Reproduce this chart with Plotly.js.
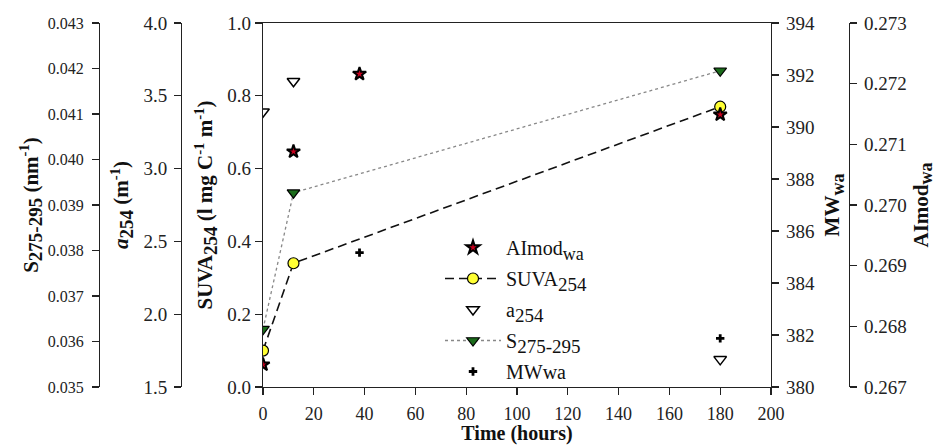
<!DOCTYPE html>
<html>
<head>
<meta charset="utf-8">
<script src="https://cdn.plot.ly/plotly-3.0.1.min.js"></script>
<style>html,body{margin:0;padding:0;background:#fff;}#chart{width:936px;height:445px;}</style>
</head>
<body>
<div id="chart"></div>
<script>
// Data
const timeAImod = [0, 12, 38, 180];
const aimodWa = [0.26737, 0.27088, 0.27216, 0.27149];

const timeSUVA = [0, 12, 180];
const suva254 = [0.10, 0.34, 0.77];

const timeA254 = [0, 12, 180];
const a254 = [3.39, 3.60, 1.69];

const timeS = [0, 12, 180];
const s275295 = [0.03627, 0.03927, 0.04195];

const timeMW = [38, 180];
const mwWa = [385.17, 381.87];

const xTicks = [0, 20, 40, 60, 80, 100, 120, 140, 160, 180, 200];

const FONT = 'Liberation Serif';
function tickFont(s) { return {family: FONT, size: s || 18, color: '#222'}; }
function titleFont(s) { return {family: FONT, size: s || 21, color: '#111'}; }
function sub(t, px) { return '<sub><span style="font-size:' + px + 'px">' + t + '</span></sub>'; }

const traces = [
  {x: timeAImod, y: aimodWa, yaxis: 'y5', name: 'AImod' + sub('wa', 18), legendgroup: 'g1', mode: 'markers',
   marker: {symbol: 'star', size: 10, color: '#c8001e', line: {color: '#000', width: 2}}},
  {x: timeSUVA, y: suva254, yaxis: 'y', name: 'SUVA' + sub('254', 19), legendgroup: 'g2', mode: 'lines+markers',
   line: {color: '#111', width: 1.6, dash: '9px,5px'},
   marker: {symbol: 'circle', size: 11, color: '#ffff33', line: {color: '#000', width: 1.2}}},
  {x: timeA254, y: a254, yaxis: 'y2', name: 'a' + sub('254', 19), legendgroup: 'g3', mode: 'markers',
   marker: {symbol: 'triangle-down', size: 11, color: '#fff', line: {color: '#000', width: 1.5}}},
  {x: timeS, y: s275295, yaxis: 'y3', name: 'S' + sub('275-295', 19), legendgroup: 'g4', mode: 'lines+markers',
   line: {color: '#888', width: 1.3, dash: 'dot'},
   marker: {symbol: 'triangle-down', size: 11, color: '#1a6b1a', line: {color: '#000', width: 1.2}}},
  {x: timeMW, y: mwWa, yaxis: 'y4', name: 'MWwa', legendgroup: 'g5', mode: 'markers',
   marker: {symbol: 'cross', size: 7, color: '#000', line: {width: 0}}}
];

const yDomain = [1 - 387/445, 1 - 23/445];
function baseY(fs, standoff) {
  return {
    showline: true, linecolor: '#222', linewidth: 1.3, ticks: 'outside', ticklen: 7,
    tickwidth: 1.2, tickcolor: '#222', showgrid: false, zeroline: false, tickfont: tickFont(fs),
    ticklabelstandoff: standoff
  };
}

const layout = {
  width: 936, height: 445,
  margin: {l: 0, r: 0, t: 0, b: 0},
  paper_bgcolor: '#fff', plot_bgcolor: 'rgba(0,0,0,0)',
  font: {family: FONT, size: 18, color: '#111'},
  showlegend: true,
  legend: {x: 440/936, y: 1 - 228/445, xanchor: 'left', yanchor: 'top', itemwidth: 56,
           tracegroupgap: 2,
           font: {family: FONT, size: 20, color: '#111'}, bgcolor: 'rgba(0,0,0,0)'},
  xaxis: {domain: [263/936, 771/936], range: [0, 200], tickvals: xTicks,
          showline: true, mirror: true, linecolor: '#222', linewidth: 1.3,
          ticks: 'outside', ticklen: 7, tickwidth: 1.2, tickcolor: '#222',
          showgrid: false, zeroline: false, tickfont: tickFont(18), ticklabelstandoff: 3,
          title: {text: '<b>Time (hours)</b>', font: titleFont(20), standoff: 13}},
  yaxis: Object.assign(baseY(19, 0), {domain: yDomain, range: [0, 1], dtick: 0.2, tickformat: '.1f',
          title: {text: '<b>SUVA' + sub('254', 19) + ' (l mg C<sup>-1</sup> m<sup>-1</sup>)</b>', font: titleFont(), standoff: 8}}),
  yaxis2: Object.assign(baseY(19, 3), {overlaying: 'y', side: 'left', anchor: 'free', position: 181/936,
          range: [1.5, 4.0], dtick: 0.5, tickformat: '.1f',
          title: {text: '<b><i>a</i>' + sub('254', 19) + ' (m<sup>-1</sup>)</b>', font: titleFont(), standoff: 7}}),
  yaxis3: Object.assign(baseY(16, 5), {overlaying: 'y', side: 'left', anchor: 'free', position: 99/936,
          range: [0.035, 0.043], dtick: 0.001, tickformat: '.3f',
          title: {text: '<b>S' + sub('275-295', 19) + ' (nm<sup>-1</sup>)</b>', font: titleFont(), standoff: 2}}),
  yaxis4: Object.assign(baseY(19, 3), {overlaying: 'y', side: 'right', anchor: 'x',
          range: [380, 394], dtick: 2,
          title: {text: '<b>MW' + sub('wa', 18) + '</b>', font: titleFont(), standoff: 10}}),
  yaxis5: Object.assign(baseY(19, 3), {overlaying: 'y', side: 'right', anchor: 'free', position: 849/936,
          range: [0.267, 0.273], dtick: 0.001, tickformat: '.3f',
          title: {text: '<b>AImod' + sub('wa', 18) + '</b>', font: titleFont(), standoff: 10}})
};

Plotly.newPlot('chart', traces, layout, {displayModeBar: false, staticPlot: true});
</script>
</body>
</html>
